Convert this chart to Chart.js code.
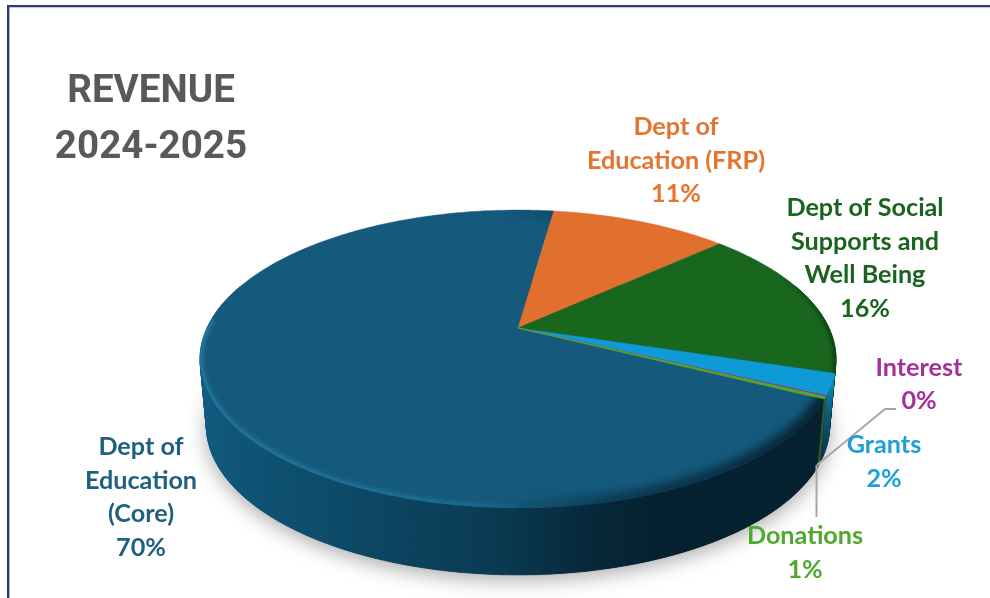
<!DOCTYPE html>
<html><head><meta charset="utf-8">
<style>html,body{margin:0;padding:0;background:#fff;overflow:hidden}canvas{display:block}</style>
<script src="https://cdn.jsdelivr.net/npm/chart.js@4"></script>
</head><body><canvas id="c" width="990" height="598"></canvas>
<script>
const categories = ["Dept of Education (Core)","Dept of Education (FRP)","Dept of Social Supports and Well Being","Grants","Interest","Donations"];
const shares = [69.75, 11, 16.6, 2.3, 0.1, 0.25];
const percentLabels = ["70%","11%","16%","2%","0%","1%"];
const labelLines = [["Dept of","Education","(Core)"],["Dept of","Education (FRP)"],["Dept of Social","Supports and","Well Being"],["Grants"],["Interest"],["Donations"]];
const sliceColors = ["#155a7d","#e1702e","#19661f","#0e9ad6","#a02b93","#4ea72e"];
const labelColors = ["#1f5f80","#e5742f","#1a6420","#1e9fd8","#a5309a","#4fa92f"];
const titleLines = ["REVENUE","2024-2025"];
const startDegrees = -243.1;

const G = {cx:518, cy:328, R:311, Ry:142.5, q:0.208, depth:67, shrink:0.98};
const labelPos = [[141,447.3],[676,127.3],[865,208.3],[884,445.3],[919,367.6],[805,536]];
const lineGap = 33.4;

function pt(a, onBottom){
  const x = Math.cos(a), y = Math.sin(a), s = 1/(1-G.q*y), k = onBottom ? G.shrink : 1;
  return [G.cx + G.R*x*s*k, G.cy + G.Ry*y*s + (onBottom ? G.depth : 0)];
}
function rim(ctx, a0, a1, bottom, move){
  const n = Math.max(2, Math.ceil((a1-a0)/0.01));
  for(let i=0;i<=n;i++){
    const p = pt(a0+(a1-a0)*i/n, bottom);
    if(i===0 && move) ctx.moveTo(p[0],p[1]); else ctx.lineTo(p[0],p[1]);
  }
}
function wedge(ctx, a0, a1){
  ctx.beginPath(); ctx.moveTo(G.cx,G.cy); rim(ctx,a0,a1,false,false); ctx.closePath();
}
function wallFill(ctx, i){
  let g;
  if(i===0){
    g = ctx.createLinearGradient(200,0,820,0);
    [[0,"#125c80"],[0.1,"#0f5273"],[0.28,"#0c4763"],[0.48,"#0a3a52"],[0.62,"#07293b"],[0.75,"#05202f"],[1,"#05202f"]].forEach(s=>g.addColorStop(s[0],s[1]));
    return g;
  }
  if(i===3){
    g = ctx.createLinearGradient(0,375,0,465);
    g.addColorStop(0,"#0e92ca"); g.addColorStop(0.4,"#0c5f86"); g.addColorStop(1,"#07293b");
    return g;
  }
  if(i===2) return "#0f3f14";
  if(i===1) return "#8a4419";
  if(i===4) return "#5a1a53";
  return "#2f651c";
}
const pie3d = {
  id:"pie3d",
  beforeDatasetsDraw(chart){
    const ctx = chart.ctx, arcs = chart.getDatasetMeta(0).data;
    // frame
    ctx.save();
    ctx.fillStyle="#2b3a7a"; ctx.fillRect(7,5,983,2.4); ctx.fillRect(7,5,2.4,593);
    ctx.fillStyle="#d9d9d9"; ctx.fillRect(9.4,7.4,981,0.8);
    ctx.restore();
    // ground shadow
    ctx.save();
    ctx.shadowColor="rgba(0,0,0,0.34)"; ctx.shadowBlur=20; ctx.shadowOffsetY=5;
    ctx.fillStyle="#0a3a52";
    ctx.beginPath(); rim(ctx,0,Math.PI*2,true,true); ctx.closePath(); ctx.fill();
    ctx.restore();
    // walls
    arcs.forEach((arc,i)=>{
      const a0=arc.startAngle, a1=arc.endAngle, n=Math.max(1,Math.ceil((a1-a0)/0.01));
      ctx.fillStyle=wallFill(ctx,i); ctx.strokeStyle=ctx.fillStyle; ctx.lineWidth=0.6;
      for(let k=0;k<n;k++){
        const b0=a0+(a1-a0)*k/n, b1=a0+(a1-a0)*(k+1)/n;
        if(Math.sin(b0)<-0.3 && Math.sin(b1)<-0.3) continue;
        const p=pt(b0,false),q=pt(b1,false),r=pt(b1,true),s=pt(b0,true);
        ctx.beginPath(); ctx.moveTo(p[0],p[1]); ctx.lineTo(q[0],q[1]); ctx.lineTo(r[0],r[1]); ctx.lineTo(s[0],s[1]); ctx.closePath(); ctx.fill(); ctx.stroke();
      }
    });
    // tops
    arcs.forEach((arc,i)=>{
      wedge(ctx,arc.startAngle,arc.endAngle);
      ctx.fillStyle=sliceColors[i]; ctx.strokeStyle=sliceColors[i]; ctx.lineWidth=i>=4?0.9:0.4;
      ctx.fill(); ctx.stroke();
    });
    // bevel on core slice: highlight only along the front-left rim
    const core=arcs[0];
    ctx.save();
    wedge(ctx,core.startAngle,core.endAngle); ctx.clip();
    ctx.filter="blur(2px)";
    let g=ctx.createLinearGradient(200,0,560,0);
    g.addColorStop(0,"rgba(44,138,178,0.7)"); g.addColorStop(0.7,"rgba(44,138,178,0.45)"); g.addColorStop(1,"rgba(44,138,178,0)");
    ctx.strokeStyle=g; ctx.lineWidth=6;
    ctx.beginPath(); rim(ctx,Math.PI*0.5,Math.PI*1.02,false,true); ctx.stroke();
    ctx.filter="blur(5px)";
    g=ctx.createLinearGradient(500,0,825,0);
    g.addColorStop(0,"rgba(5,32,47,0)"); g.addColorStop(0.35,"rgba(5,32,47,0.55)"); g.addColorStop(1,"rgba(5,32,47,0.95)");
    ctx.strokeStyle=g; ctx.lineWidth=16;
    ctx.beginPath(); rim(ctx,core.startAngle,Math.PI*0.5,false,true); ctx.stroke();
    ctx.restore();
    // darker rim at the right of the social slice
    const soc=arcs[2];
    ctx.save();
    wedge(ctx,soc.startAngle,soc.endAngle); ctx.clip();
    ctx.filter="blur(2px)";
    g=ctx.createLinearGradient(770,0,835,0);
    g.addColorStop(0,"rgba(8,40,12,0)"); g.addColorStop(1,"rgba(8,40,12,0.7)");
    ctx.strokeStyle=g; ctx.lineWidth=5;
    ctx.beginPath(); rim(ctx,soc.startAngle,soc.endAngle,false,true); ctx.stroke();
    ctx.restore();
    // leader lines
    ctx.save();
    ctx.strokeStyle="#a6a6a6"; ctx.lineWidth=2;
    ctx.beginPath(); ctx.moveTo(817,465); ctx.lineTo(885,409); ctx.lineTo(896,409); ctx.stroke();
    ctx.beginPath(); ctx.moveTo(816.5,465); ctx.lineTo(816.5,517); ctx.stroke();
    ctx.restore();
    // text
    ctx.save();
    ctx.textAlign="center"; ctx.textBaseline="middle";
    ctx.font="bold 25.2px Lato";
    categories.forEach((c,i)=>{
      const lines=labelLines[i].concat(percentLabels[i]);
      ctx.fillStyle=labelColors[i];
      lines.forEach((t,j)=>ctx.fillText(t,labelPos[i][0],labelPos[i][1]+j*lineGap));
    });
    ctx.fillStyle="#595959"; ctx.font="bold 38.6px Roboto";
    ctx.fillText(titleLines[0],151,92); ctx.fillText(titleLines[1],151,148);
    ctx.restore();
    return false;
  }
};
new Chart(document.getElementById("c"),{
  type:"pie",
  data:{labels:categories,datasets:[{data:shares,backgroundColor:sliceColors,borderWidth:0}]},
  options:{responsive:false,animation:false,rotation:startDegrees,
    plugins:{legend:{display:false},tooltip:{enabled:false},title:{display:false}}},
  plugins:[pie3d]
});
</script></body></html>
